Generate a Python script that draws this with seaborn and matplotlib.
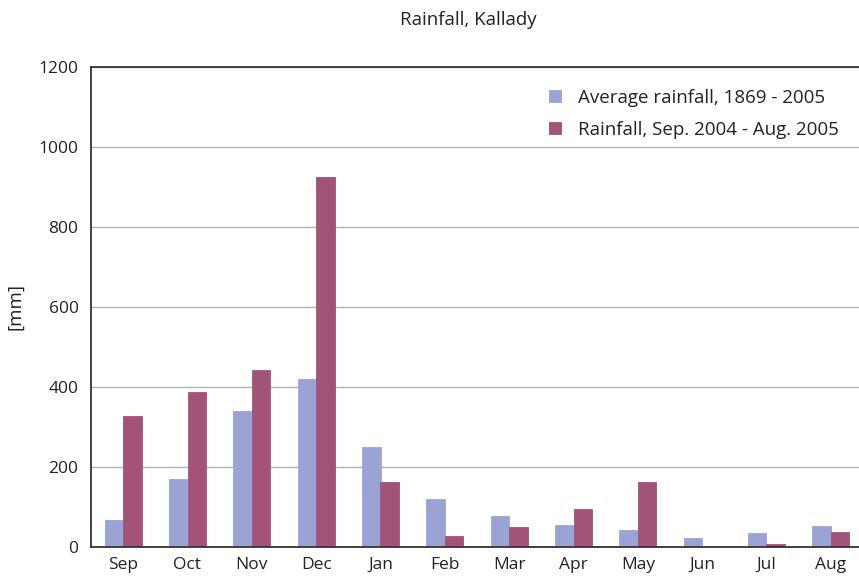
import pandas as pd
import seaborn as sns
import numpy as np
import matplotlib.pyplot as plt

sns.set_style('white')
plt.rcParams['font.family'] = ['Open Sans', 'DejaVu Sans']

# data
months = ['Sep', 'Oct', 'Nov', 'Dec', 'Jan', 'Feb', 'Mar', 'Apr', 'May', 'Jun', 'Jul', 'Aug']
avg_rain = [67, 170, 340, 420, 250, 120, 77, 55, 42, 22, 35, 52]
rain_0405 = [327, 387, 442, 925, 162, 27, 50, 95, 162, 0, 7, 37]
series = ['Average rainfall, 1869 - 2005', 'Rainfall, Sep. 2004 - Aug. 2005']
colors = ['#9BA3D5', '#A15478']

df = pd.DataFrame({
    'Month': months * 2,
    'Rain': avg_rain + rain_0405,
    'Series': [series[0]] * len(months) + [series[1]] * len(months),
})

fig = plt.figure(figsize=(8.59, 5.81), dpi=100)
ax = fig.add_axes([91 / 859, 34 / 581, 772 / 859, 480 / 581])

sns.barplot(data=df, x='Month', y='Rain', hue='Series', palette=colors,
            width=0.58, saturation=1, linewidth=0, ax=ax, order=months, hue_order=series)

# close the hairline seam between paired bars
for p in ax.patches:
    p.set_edgecolor(p.get_facecolor())
    p.set_linewidth(0.6)

ax.set_xlim(-0.5, 11.5)
ax.set_ylim(0, 1200)
ax.set_yticks(np.arange(0, 1201, 200))
ax.yaxis.grid(True, color='#B4B4B4', linewidth=1)
ax.set_axisbelow(True)

# ticks at category boundaries, labels centered
ax.set_xticks(np.arange(-0.5, 12, 1), minor=True)
ax.tick_params(axis='x', which='major', length=0, labelsize=12.5, colors='#222222', pad=7)
ax.tick_params(axis='x', which='minor', length=5, width=1.2, color='#333333', direction='out')
ax.tick_params(axis='y', length=4, width=1.2, color='#333333', labelsize=12.5,
               labelcolor='#222222', direction='out', pad=5)

for side in ['left', 'top', 'bottom']:
    ax.spines[side].set_color('#333333')
    ax.spines[side].set_linewidth(1.3)
ax.spines['right'].set_visible(False)

ax.set_xlabel('')
ax.set_ylabel('[mm]', fontsize=13.5, color='#222222', labelpad=10)

leg = ax.legend(loc='upper right', bbox_to_anchor=(0.99, 0.99), frameon=False,
                fontsize=13.5, handlelength=0.6, handleheight=0.6, handletextpad=0.9,
                labelspacing=0.75)
for t in leg.get_texts():
    t.set_color('#222222')

fig.text(468 / 859, 1 - 20 / 581, 'Rainfall, Kallady', ha='center', va='center',
         fontsize=13.5, color='#222222')

plt.savefig('out.png', dpi=100)
